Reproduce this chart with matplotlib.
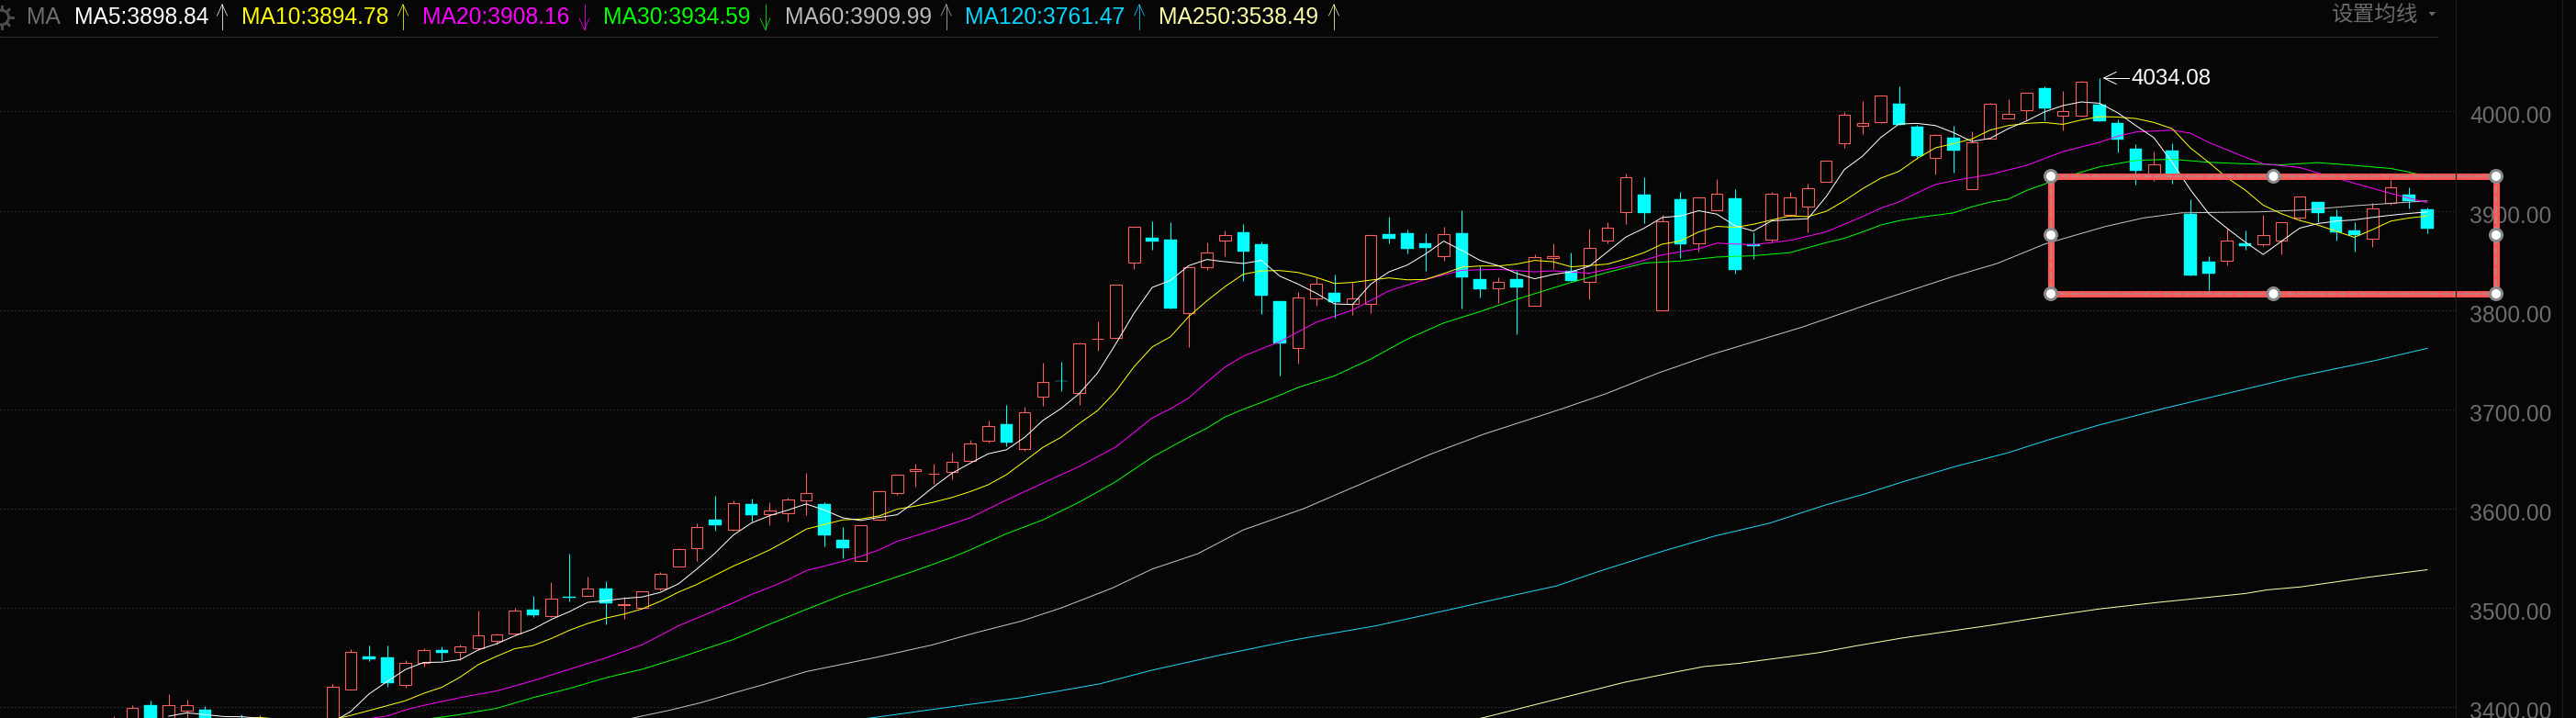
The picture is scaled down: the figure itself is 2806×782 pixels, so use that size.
import matplotlib
matplotlib.use("Agg")
import matplotlib.pyplot as plt
from matplotlib.lines import Line2D
from matplotlib.patches import Rectangle, Circle, Polygon
from matplotlib.transforms import ScaledTranslation
import numpy as np

W, H = 2806, 782
BG = "#060606"
RED = "#ff5f5c"
CYAN = "#00ffff"

# ---- candle data (session number, open, close, high, low) ----
candle_n = [-11, -10, -9, -8, -7, -6, -4, -3] + list(range(1, 117))
opens = [3380, 3378, 3402.2, 3380, 3396.9, 3397.5, 3385, 3382,
    3375, 3418.3, 3451.3, 3450.4, 3422.9, 3445.1, 3457.8, 3455.3, 3459, 3467.3,
    3473.8, 3498.5, 3491.4, 3511, 3512.6, 3519.7, 3502.8, 3499.7, 3519.1, 3542.2,
    3560.7, 3589.1, 3578.8, 3604.7, 3594.2, 3595.2, 3608.1, 3605, 3568.9, 3546.9,
    3588.7, 3615.5, 3637.7, 3634.9, 3636.8, 3647.9, 3668.2, 3685.5, 3659.9, 3712.6,
    3728.7, 3716.3, 3771, 3771.8, 3847.8, 3872.5, 3870.6, 3796.9, 3843.2, 3870,
    3878, 3866, 3808.6, 3761.8, 3811.7, 3817, 3806.2, 3806.2, 3876.2, 3877.1,
    3866.9, 3854.3, 3877.1, 3830.8, 3821.9, 3830.8, 3804.3, 3852.1, 3839.9, 3828.5,
    3870.1, 3898.8, 3916, 3799.8, 3911.4, 3867.3, 3900.6, 3912.3, 3866.1, 3871,
    3896, 3904.3, 3929.3, 3968.2, 3985.8, 3989.5, 4007.7, 3984.6, 3953.4, 3973.5,
    3922, 3972.9, 3993.2, 4001.5, 4023.4, 3996, 3996, 4006.8, 3988, 3962.1,
    3932, 3960.5, 3896.7, 3848.6, 3849.8, 3867.1, 3866.5, 3870.2, 3893.3, 3908.7,
    3893.9, 3880, 3872, 3907.8, 3916.1, 3901.3]
closes = [3385, 3399, 3385, 3401.9, 3401.9, 3385, 3383, 3385,
    3420.4, 3455.6, 3448.8, 3424.5, 3444.5, 3457.4, 3455, 3461.1, 3472.2, 3473.2,
    3497.2, 3492.9, 3509.3, 3510.6, 3519.4, 3505.2, 3503.7, 3516.7, 3534.2, 3559.2,
    3581.4, 3582.9, 3605.6, 3593.9, 3598.2, 3609.3, 3615.8, 3573.6, 3560.6, 3583.3,
    3617.7, 3634.3, 3639.9, 3635.2, 3647.3, 3665.8, 3683.3, 3667, 3697.2, 3727.8,
    3728.4, 3766.6, 3771.2, 3825.8, 3884.2, 3868.8, 3801.2, 3843.5, 3858.3, 3875.9,
    3858.6, 3814.2, 3766.1, 3813, 3826.8, 3807.7, 3812, 3875.9, 3871.5, 3861.4,
    3862.3, 3876.8, 3832.7, 3820.7, 3828.7, 3822.5, 3853.7, 3854, 3829.1, 3863,
    3883.3, 3934.2, 3897.5, 3889.8, 3866.1, 3913, 3916.7, 3840.2, 3864.2, 3916.7,
    3913.9, 3923.1, 3950.9, 3996.3, 3988.3, 4015.7, 3986.4, 3955, 3976.3, 3960.5,
    3968.9, 4007.4, 3997.2, 4018.5, 4003.1, 4000, 4029.6, 3990.1, 3971.6, 3940.2,
    3946.3, 3934.6, 3834.7, 3836.6, 3869.6, 3864.3, 3875.1, 3888.1, 3914, 3897.6,
    3878.2, 3875.4, 3901.9, 3923.2, 3909.7, 3881.9]
highs = [3391, 3402, 3406.8, 3413.3, 3407.7, 3401.2, 3392.9, 3392,
    3423.2, 3458.4, 3462.4, 3462.4, 3447.6, 3459.6, 3461.5, 3463.3, 3497.5, 3474.4,
    3500, 3512.3, 3526.2, 3554.9, 3531.8, 3527.1, 3511.4, 3516.7, 3536.4, 3560.4,
    3584.8, 3613.2, 3608.5, 3610.3, 3606.9, 3611.5, 3636.5, 3606.9, 3581.9, 3583.3,
    3617.7, 3634.3, 3645.7, 3645.7, 3656.5, 3669.8, 3689.2, 3704.9, 3702.8, 3746.6,
    3747.5, 3767.8, 3788.2, 3825.8, 3884.2, 3889.1, 3888.2, 3843.5, 3867.8, 3879.9,
    3886.3, 3868.8, 3808.6, 3817.9, 3833.3, 3835.5, 3827.8, 3875.9, 3893.7, 3880.8,
    3877.1, 3883.6, 3900.2, 3844.1, 3832.7, 3839.2, 3855.8, 3866.9, 3857.8, 3881.8,
    3888.3, 3937.3, 3933.6, 3896.3, 3918.8, 3913, 3931.8, 3921.6, 3878.1, 3919.4,
    3919.4, 3927.1, 3950.9, 3999.1, 4010.2, 4015.7, 4025.3, 3986.7, 3977.2, 3985.5,
    3979.6, 4008.3, 4012, 4018.5, 4025.3, 4020.7, 4030.5, 4034.08, 3992, 3966.7,
    3959.5, 3967.9, 3911.5, 3854.1, 3881.9, 3880, 3895.7, 3888.1, 3914, 3908.7,
    3901.6, 3888.4, 3907.5, 3930.9, 3923.5, 3903.2]
lows = [3375, 3375, 3380, 3378, 3385, 3380, 3380, 3380,
    3372, 3417.4, 3446.7, 3420.8, 3419.8, 3441.1, 3447.6, 3447, 3457.4, 3463,
    3473.2, 3491, 3490.7, 3506.8, 3512.6, 3483.7, 3489.2, 3499.7, 3517.9, 3542.2,
    3547.5, 3578, 3577.7, 3586.8, 3583.1, 3586.8, 3593.9, 3562.5, 3550.4, 3546.9,
    3587.8, 3614.3, 3622.6, 3625.4, 3630, 3647.9, 3667, 3663.3, 3658.7, 3703.1,
    3718.8, 3704.9, 3758.6, 3771.2, 3841, 3860.4, 3801.2, 3762.4, 3840.1, 3854,
    3829, 3795.7, 3733.7, 3746, 3804, 3792.3, 3794.8, 3796.6, 3866.9, 3856.7,
    3839.2, 3849.3, 3801.2, 3812.3, 3806.8, 3775.3, 3804.3, 3841, 3829.1, 3810.9,
    3867.3, 3886.4, 3887.4, 3799.8, 3852.2, 3858.7, 3900.6, 3836.5, 3851.3, 3868.2,
    3894.1, 3878.1, 3929.3, 3963.6, 3977.5, 3988, 3986.4, 3951.9, 3936.5, 3938.3,
    3922, 3972.9, 3993.2, 3990.7, 3991, 3980.9, 3994.4, 3990.1, 3958.7, 3926.3,
    3930, 3927.5, 3834.7, 3819.9, 3844.9, 3860.6, 3864.3, 3856, 3891.2, 3888.4,
    3869.9, 3858.8, 3863.4, 3905.6, 3902.3, 3877.3]

# ---- moving averages: (session, value) ----
ma5_n = [-8, -7, -6, -5, -4, -3, -2, -1, 0] + list(range(1, 117))
ma5_v = [3391, 3394.4, 3392.6, 3390.7, 3390.4, 3389, 3384, 3381, 3380,
    3385, 3395.8, 3413.4, 3426, 3438, 3445.1, 3445.4, 3447.9, 3457.8, 3463.9,
    3471.9, 3478.7, 3488.3, 3496.3, 3505.6, 3507.4, 3509.6, 3511.1, 3515.7, 3524.4,
    3539.2, 3555.2, 3573.4, 3585.6, 3593, 3598.6, 3604.7, 3598.6, 3590.8, 3588.1,
    3591.2, 3593.9, 3607.2, 3622, 3635.6, 3645.7, 3655.3, 3659.3, 3671.9, 3688.9,
    3700.9, 3716, 3736.7, 3766, 3796.8, 3822.8, 3829.9, 3844.7, 3850.9, 3848.7,
    3846.9, 3850, 3834.2, 3826.2, 3817, 3806.2, 3805.6, 3826.2, 3838.5, 3845.3,
    3856.4, 3869.4, 3860.1, 3850, 3844.7, 3837, 3831.5, 3835.8, 3838.6, 3844.2,
    3858.7, 3873.5, 3882.4, 3893.2, 3894.8, 3900, 3896.6, 3884.9, 3879.6, 3889.8,
    3891, 3892, 3914.2, 3941.5, 3955, 3973.8, 3987.4, 3988, 3985.8, 3978.7,
    3969.8, 3972.9, 3982.7, 3990.4, 3999.7, 4005.9, 4009.6, 4008.3, 3998.8, 3985.8,
    3973.5, 3948.8, 3921.1, 3897.3, 3882.5, 3868.6, 3856, 3869.3, 3882.5, 3887.1,
    3889.6, 3890.8, 3893.3, 3895.5, 3897.3, 3898.84]
ma10_n = [-4, -3, -2, -1, 0] + list(range(1, 117))
ma10_v = [3388, 3389.8, 3388, 3386, 3386,
    3387.5, 3391.8, 3396.7, 3401.6, 3406.6, 3414, 3420.1, 3430.3, 3443, 3451.3,
    3459, 3462.1, 3469.2, 3477.5, 3484.3, 3489.8, 3493.8, 3499.1, 3506.8, 3516,
    3523.7, 3533, 3542.2, 3550.1, 3558.5, 3568.6, 3579.4, 3584.1, 3588.7, 3589.6,
    3592.7, 3599.5, 3602.6, 3606.6, 3611.2, 3617.1, 3624.1, 3634.3, 3647.9, 3661.8,
    3671.9, 3685.8, 3698.8, 3718.2, 3742.9, 3762.9, 3773.1, 3793.4, 3809.3, 3823.7,
    3836.1, 3839.5, 3839.8, 3837.9, 3833, 3826.8, 3827.8, 3830.2, 3832.4, 3830.5,
    3830.8, 3836.7, 3843.2, 3844.4, 3844.4, 3846.3, 3850, 3848.7, 3843.6, 3844.8,
    3846.3, 3851.6, 3857.8, 3866.4, 3869.5, 3878.7, 3884.3, 3883.3, 3886.4, 3890.7,
    3894.8, 3894.1, 3899.4, 3910, 3922.2, 3932.8, 3939.7, 3952.6, 3963.4, 3967.6,
    3972.3, 3981.2, 3985.8, 3988, 3988.9, 3987, 3991.4, 3994.8, 3994.4, 3992.9,
    3988.9, 3982.7, 3963.3, 3948.8, 3933.4, 3921, 3905.6, 3897, 3890.2, 3885.6,
    3879.4, 3873.3, 3881, 3889.6, 3892.7, 3894.78]
ma20_n = [3, 4, 5, 6, 8, 10, 12, 14, 16, 18, 20, 22, 23, 24, 25, 26, 27, 28, 29, 30, 31, 32,
    34, 36, 38, 40, 42, 44, 46, 47, 48, 49, 50, 51, 53, 55, 57, 59, 61, 63, 65, 67, 68,
    70, 72, 74, 76, 77, 79, 81, 83, 84, 85, 86, 87, 88, 89, 90, 92, 94, 96, 98, 99, 100,
    102, 103, 104, 106, 107, 109, 110, 112, 114, 116]
ma20_v = [3388.5, 3391.2, 3397.3, 3401.9, 3409.7, 3416.4, 3426.6, 3438.3, 3449.7, 3463, 3482.1,
    3497.5, 3505.2, 3513.6, 3520.7, 3528.4, 3537.6, 3542.2, 3546.9, 3552, 3558.5, 3567.1,
    3578.5, 3590.8, 3608.7, 3625.7, 3642.6, 3662.1, 3691.4, 3700.6, 3711.4, 3727.5, 3742.7,
    3753.7, 3768.2, 3787.7, 3800, 3819.4, 3830.8, 3840.1, 3841, 3838.5, 3839.5,
    3837.1, 3844.8, 3855.6, 3861.8, 3867.3, 3865.8, 3870.1, 3878.7, 3886.5, 3894.1, 3902.6,
    3908.9, 3918, 3926.5, 3930.3, 3936.5, 3945.7, 3959.6, 3968.9, 3975, 3979.3,
    3981.2, 3978.1, 3968.9, 3954, 3947.2, 3943.6, 3938, 3927.8, 3917.4, 3908.16]
ma30_n = [6, 7, 8, 10, 12, 14, 16, 18, 20, 22, 23, 25, 27, 29, 31, 33, 35, 36, 38, 40, 42, 44,
    46, 48, 49, 50, 51, 52, 53, 54, 56, 58, 60, 62, 64, 66, 68, 69, 71, 73, 75, 77, 79, 81,
    83, 84, 85, 86, 87, 88, 89, 90, 91, 92, 93, 94, 96, 98, 100, 102, 104, 106, 108, 110,
    112, 114, 115, 116]
ma30_v = [3388, 3390, 3392.7, 3398.9, 3409.7, 3418.9, 3429.7, 3438.3, 3449.7, 3462.1, 3468.2,
    3483.7, 3498.5, 3513, 3525.3, 3537.6, 3550.9, 3558.5, 3574.8, 3588.7, 3606.6, 3627.2,
    3651.9, 3671.9, 3681, 3692.4, 3700.1, 3707, 3714.3, 3722, 3733.7, 3750.7, 3770.7, 3787,
    3798.5, 3810.8, 3822.2, 3827.8, 3838, 3847.3, 3849.4, 3853.4, 3854.7, 3857.8,
    3867.9, 3872.3, 3878.7, 3885.6, 3890, 3893, 3895.5, 3897.9, 3904, 3908.7, 3911.7, 3920.4,
    3933.4, 3944.2, 3950.7, 3951.9, 3948.8, 3947.3, 3946.3, 3948.5,
    3945.7, 3942.6, 3939, 3934.59]
ma60_n = [16, 17.6, 19.5, 21.3, 23, 24.5, 27, 30.7, 33.9, 36.3, 38.8, 41, 43.8, 46, 48.5, 51,
    54.3, 58.3, 61.3, 64.2, 68.4, 70.9, 73.8, 76.7, 81.7, 85.5, 90, 92.4, 95, 98.3, 100.4,
    102.5, 106.8, 109.4, 112, 116]
ma60_v = [3383, 3389.6, 3397, 3405, 3414.3, 3422, 3435.9, 3449.7, 3462.7, 3475, 3486.7, 3500,
    3520, 3539.2, 3554.6, 3578.6, 3599.9, 3631.5, 3655, 3675, 3700, 3715.7, 3736.7, 3755.2,
    3782.9, 3807, 3834, 3847, 3866.5, 3884, 3892.7, 3897.9, 3898.9, 3901, 3905, 3909.99]
ma120_n = [30, 30.7, 35.2, 38.8, 43.1, 46, 49.8, 53.9, 58.3, 62.5, 65.9, 68.2, 70.5, 74, 76.9,
    79.9, 83, 85.1, 87.2, 90.1, 93, 95.1, 98, 101.6, 106, 108.9, 113.1, 116]
ma120_v = [3388, 3389.6, 3401, 3409.7, 3423.5, 3437.4, 3452.8, 3468.2, 3482.1, 3499, 3513,
    3522.2, 3536.7, 3557, 3572.5, 3585.4, 3603.9, 3614.7, 3627, 3642.5, 3656.4, 3668.7,
    3684.3, 3701.2, 3720.3, 3733, 3749, 3761.47]
ma250_n = [63, 64.2, 68.4, 71.9, 74.4, 76.3, 78.2, 82.6, 84.7, 87.2, 92.2, 94.3, 98, 101, 106,
    107.2, 109.1, 112.7, 116]
ma250_v = [3385, 3389.6, 3409, 3425, 3434.3, 3441, 3444.2, 3455, 3462, 3469.8, 3483, 3489.2,
    3499, 3505.2, 3514.5, 3518.2, 3521.3, 3530.8, 3538.49]

# ---- legend and axis text ----
legend_names = ["MA5", "MA10", "MA20", "MA30", "MA60", "MA120", "MA250"]
legend_values = ["3898.84", "3894.78", "3908.16", "3934.59", "3909.99", "3761.47", "3538.49"]
legend_dirs = ["up", "up", "down", "down", "up", "up", "up"]
legend_colors = ["#ffffff", "#ffff00", "#ff00ff", "#00ff00", "#b9b9b9", "#00d8ff", "#ffffa6"]
legend_x = [81, 263.4, 460, 657, 854.6, 1051, 1262]
arrow_x = [242, 439, 636.5, 833.5, 1030.6, 1241, 1453]
y_ticks = [3400, 3500, 3600, 3700, 3800, 3900, 4000]

plt.rcParams["font.family"] = ["Liberation Sans", "Noto Sans CJK SC", "DejaVu Sans"]
FS = 24.6 * 72 / 100
PX = 72 / 100

fig = plt.figure(figsize=(W / 100, H / 100), dpi=100, facecolor=BG)

# main price axes: 4000 at y=121.4 px, 3400 at y=770.3 px, session 1 at x=362.3 px
AX_R, AX_T = 2674, 40
ax = fig.add_axes([0, 0, AX_R / W, (H - AX_T) / H], facecolor=BG)
k = (770.3 - 121.4) / 600
ax.set_ylim(3400 - (H - 770.3) / k, 4000 + (121.4 - AX_T) / k)
step = 19.84
ax.set_xlim(1 - 362.3 / step, 1 + (AX_R - 362.3) / step)
for s in ax.spines.values():
    s.set_visible(False)
ax.set_xticks([])
ax.yaxis.tick_right()
ax.set_yticks(y_ticks)
ax.set_yticklabels([f"{v:.2f}" for v in y_ticks], fontsize=FS, color="#6c6c6c", va="center")
ax.tick_params(axis="y", length=0, pad=16 * PX)
off = ScaledTranslation(0, -6 / 100, fig.dpi_scale_trans)
for lab in ax.get_yticklabels():
    lab.set_transform(lab.get_transform() + off)
ax.grid(axis="y", color="#4a4a4a", lw=1 * PX, linestyle=(0, (1, 3)))
ax.set_axisbelow(True)

n = np.array(candle_n, float)
o, c, hi, lo = map(np.array, (opens, closes, highs, lows))
up = c >= o
top, bot = np.maximum(o, c), np.minimum(o, c)
width = 12.5 / step

ax.vlines(n[up], top[up], hi[up], color=RED, lw=1.1 * PX, zorder=2)
ax.vlines(n[up], lo[up], bot[up], color=RED, lw=1.1 * PX, zorder=2)
ax.vlines(n[~up], lo[~up], hi[~up], color=CYAN, lw=1.1 * PX, zorder=2)
ax.bar(n[up], (top - bot)[up], width=width, bottom=bot[up], facecolor=BG,
       edgecolor=RED, lw=1.1 * PX, zorder=2.2)
ax.bar(n[~up], (top - bot)[~up], width=width + 1 / step, bottom=bot[~up], facecolor=CYAN,
       edgecolor=CYAN, lw=0.4 * PX, zorder=2.2)

series = [(ma250_n, ma250_v, "#ffffa6"), (ma120_n, ma120_v, "#1fd6f2"), (ma60_n, ma60_v, "#c4c4c4"),
          (ma30_n, ma30_v, "#00ff00"), (ma20_n, ma20_v, "#ff00ff"), (ma10_n, ma10_v, "#ffff00"),
          (ma5_n, ma5_v, "#ffffff")]
for xs, ys, col in series:
    ax.plot(xs, ys, color=col, lw=1.0 * PX, zorder=3)

# overlay in pixel coordinates for the header, separators and the drawn box
ov = fig.add_axes([0, 0, 1, 1], facecolor="none", zorder=5)
ov.set_xlim(0, W)
ov.set_ylim(H, 0)
ov.axis("off")

def seg(x0, y0, x1, y1, col, lw=1.0, **kw):
    ov.add_line(Line2D([x0, x1], [y0, y1], color=col, lw=lw * PX, **kw))

seg(0, 39.5, 2655, 39.5, "#2b2b2b", 1.2)
seg(AX_R + 0.5, 0, AX_R + 0.5, H, "#1c1c1c", 1.2)
seg(2790.5, 0, 2790.5, H, "#1c1c1c", 1.2)

# gear (clipped by the left edge)
ov.add_patch(Circle((1.5, 19), 8, fill=False, ec="#4c4c4c", lw=3 * PX))
for a in np.deg2rad(np.arange(-90, 91, 45)):
    seg(1.5 + 8 * np.cos(a), 19 + 8 * np.sin(a), 1.5 + 12 * np.cos(a), 19 + 12 * np.sin(a), "#4c4c4c", 3)

ov.text(29, 19.5, "MA", color="#6e6e6e", fontsize=FS, va="center", ha="left")
for name, val, d, col, lx, ax_x in zip(legend_names, legend_values, legend_dirs, legend_colors, legend_x, arrow_x):
    ov.text(lx, 19.5, f"{name}:{val}", color=col, fontsize=FS, va="center", ha="left")
    seg(ax_x, 5, ax_x, 32, col, 0.8)
    tip, back = (5, 17) if d == "up" else (32, 20)
    seg(ax_x - 5.5, back, ax_x, tip, col, 0.7)
    seg(ax_x + 5.5, back, ax_x, tip, col, 0.7)

ov.text(2540, 16, "设置均线", color="#6a6a6a", fontsize=FS * 0.96, va="center", ha="left",
        family=["Noto Sans CJK SC", "DejaVu Sans"])
ov.add_patch(Polygon([[2645.5, 13], [2653, 13], [2649.2, 17.5]], closed=True, fc="#6a6a6a", ec="none"))

# peak marker
seg(2291.7, 85, 2319, 85, "#ffffff", 1)
seg(2305, 78.5, 2291.7, 85, "#ffffff", 1)
seg(2305, 91.5, 2291.7, 85, "#ffffff", 1)
ov.text(2321.7, 86, f"{max(highs):.2f}", color="#ffffff", fontsize=FS * 0.98, va="center", ha="left")

# drawn box with handles
BL, BR, BT, BB = 2234, 2719, 192, 320
ov.add_patch(Rectangle((BL, BT), BR - BL, BB - BT, fill=False, ec="#ff5555", lw=7 * PX, joinstyle="miter"))
ov.add_patch(Rectangle((BL, BT), BR - BL, BB - BT, fill=False, ec="#a89090", lw=1.5 * PX,
                       linestyle=(0, (5.5, 2))))
BMX, BMY = (BL + BR) / 2 + 0, (BT + BB) / 2
for hx, hy in [(BL, BT), (BMX, BT), (BR, BT), (BL, BMY), (BR, BMY), (BL, BB), (BMX, BB), (BR, BB)]:
    ov.add_patch(Circle((hx, hy), 6.5, fc="#ffffff", ec="#8a8a8a", lw=3 * PX, zorder=6))

fig.savefig("out.png", dpi=100, facecolor=BG)
